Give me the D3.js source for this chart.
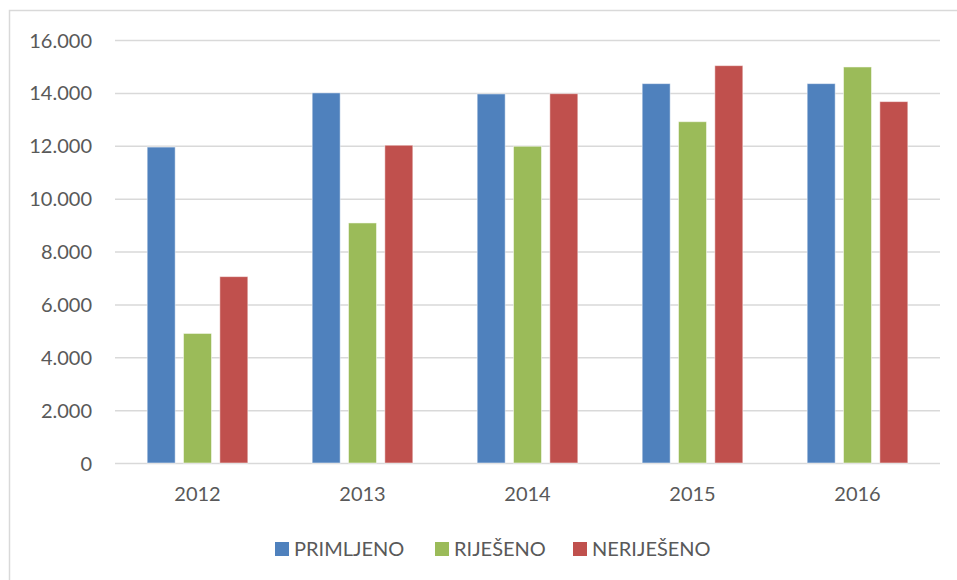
<!DOCTYPE html>
<html>
<head>
<meta charset="utf-8">
<script src="https://cdn.jsdelivr.net/npm/d3@7"></script>
<style>
  body { margin: 0; background: #fff; }
  svg text { font-family: Lato, "Open Sans", sans-serif; fill: #595959; }
</style>
</head>
<body>
<div id="chart"></div>
<script>
// Data
var years = ["2012", "2013", "2014", "2015", "2016"];
var seriesNames = ["PRIMLJENO", "RIJEŠENO", "NERIJEŠENO"];
var primljeno = [11950, 14000, 13960, 14350, 14350];
var rijeseno = [4900, 9080, 11980, 12910, 14980];
var nerijeseno = [7050, 12020, 13970, 15030, 13670];
var yTicks = [0, 2000, 4000, 6000, 8000, 10000, 12000, 14000, 16000];

var colors = ["#4F81BD", "#9BBB59", "#C0504D"];
var allSeries = [primljeno, rijeseno, nerijeseno];

var W = 957, H = 580;
var margin = { left: 115, right: 17, top: 40, bottom: 117 };
var width = W - margin.left - margin.right,
    height = H - margin.top - margin.bottom;

var svg = d3.select("#chart")
    .append("svg")
    .attr("width", W)
    .attr("height", H);

// chart border (only top and left visible in the crop)
svg.append("rect")
    .attr("x", 9.5)
    .attr("y", 10.5)
    .attr("width", 1000)
    .attr("height", 700)
    .attr("fill", "none")
    .attr("stroke", "#d9d9d9")
    .attr("stroke-width", 1.5);

var g = svg.append("g")
    .attr("transform", "translate(" + margin.left + "," + margin.top + ")");

// Scales
var x0 = d3.scaleBand()
    .domain(years)
    .range([0, width])
    .paddingInner(0.39)
    .paddingOuter(0.195);

var x1 = d3.scaleBand()
    .domain(d3.range(seriesNames.length))
    .range([0, x0.bandwidth()])
    .paddingInner(0.229)
    .paddingOuter(0);

var y = d3.scaleLinear()
    .domain([0, 16000])
    .range([height, 0]);

// Gridlines + y labels
var yAxis = g.append("g")
    .call(d3.axisLeft(y)
        .tickValues(yTicks)
        .tickSize(-width)
        .tickPadding(23)
        .tickFormat(function(d){ return d3.format(",")(d).replace(/,/g, "."); }));

yAxis.select(".domain").remove();
yAxis.selectAll(".tick line")
    .attr("x1", 0)
    .attr("stroke", "#d9d9d9")
    .attr("stroke-width", 1.5);
yAxis.selectAll(".tick text")
    .attr("font-size", "20px")
    .attr("dy", "0.35em")
    .style("font-family", "Lato, sans-serif")
    .attr("fill", "#595959");

// Bars
var rows = years.map(function(yr, i){
    return { year: yr, values: allSeries.map(function(s){ return s[i]; }) };
});

var groups = g.selectAll(".year")
    .data(rows)
    .enter().append("g")
    .attr("class", "year")
    .attr("transform", function(d){ return "translate(" + x0(d.year) + ",0)"; });

groups.selectAll("rect")
    .data(function(d){ return d.values.map(function(v, k){ return { k: k, v: v }; }); })
    .enter().append("rect")
    .attr("x", function(d){ return x1(d.k); })
    .attr("width", x1.bandwidth())
    .attr("y", function(d){ return y(d.v); })
    .attr("height", function(d){ return height - y(d.v); })
    .attr("fill", function(d){ return colors[d.k]; })
    .attr("stroke", "#ffffff")
    .attr("stroke-opacity", 0.5)
    .attr("stroke-width", 1);

// X labels
var xAxis = g.append("g")
    .attr("transform", "translate(0," + height + ")")
    .call(d3.axisBottom(x0).tickSize(0).tickPadding(24));
xAxis.select(".domain").remove();
xAxis.selectAll(".tick text")
    .attr("font-size", "20px")
    .style("font-family", "Lato, sans-serif")
    .attr("fill", "#595959");

// Legend
var legendX = [275, 435, 573];
var legend = svg.append("g");
seriesNames.forEach(function(name, i){
    var row = legend.append("g")
        .attr("transform", "translate(" + legendX[i] + ",542)");
    row.append("rect")
        .attr("width", 14)
        .attr("height", 14)
        .attr("fill", colors[i]);
    row.append("text")
        .attr("x", 19)
        .attr("y", 14)
        .attr("font-size", "20px")
        .text(name);
});
</script>
</body>
</html>
